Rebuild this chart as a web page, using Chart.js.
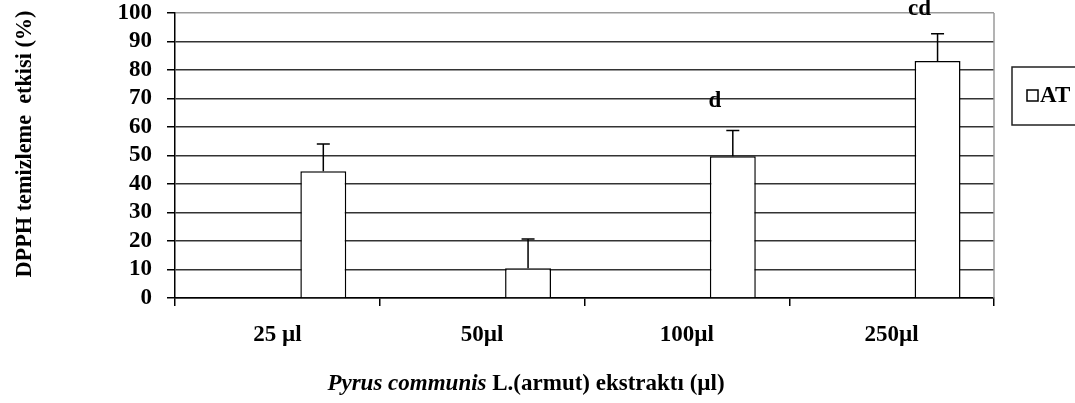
<!DOCTYPE html>
<html>
<head>
<meta charset="utf-8">
<script src="https://cdn.jsdelivr.net/npm/chart.js@4.4.1/dist/chart.umd.min.js"></script>
<style>
html,body{margin:0;padding:0;background:#fff;}
#c{display:block;}
</style>
</head>
<body>
<canvas id="c" width="1075" height="403"></canvas>
<script>
// ---- data ----
const categories = ['25 µl', '50µl', '100µl', '250µl'];
const atValues = [44.5, 10.4, 49.7, 83.2];
const atErrors = [9.5, 10.3, 9.1, 9.5];
const sigLabels = ['', '', 'd', 'cd'];
const seriesName = 'AT';
const yTitle = 'DPPH temizleme  etkisi (%)';
const xTitleItalic = 'Pyrus communis';
const xTitleRest = ' L.(armut) ekstraktı (µl)';
const yMin = 0, yMax = 100, yStep = 10;

const FAM = '"Liberation Serif", "Times New Roman", serif';
const FS = 23;

const extras = {
  id: 'extras',
  afterDraw(chart) {
    const ctx = chart.ctx;
    const ca = chart.chartArea;
    const ys = chart.scales.y;
    ctx.save();
    // right border
    ctx.strokeStyle = '#9a9a9a';
    ctx.lineWidth = 1.5;
    ctx.beginPath();
    ctx.moveTo(ca.right, ca.top);
    ctx.lineTo(ca.right, ca.bottom);
    ctx.stroke();

    // error bars + significance letters
    const meta = chart.getDatasetMeta(2);
    ctx.strokeStyle = '#000';
    ctx.fillStyle = '#000';
    ctx.lineWidth = 1.5;
    meta.data.forEach((el, i) => {
      const top = ys.getPixelForValue(atValues[i] + atErrors[i]);
      ctx.beginPath();
      ctx.moveTo(el.x, el.y);
      ctx.lineTo(el.x, top);
      ctx.moveTo(el.x - 6.5, top);
      ctx.lineTo(el.x + 6.5, top);
      ctx.stroke();
      if (sigLabels[i]) {
        ctx.font = 'bold ' + FS + 'px ' + FAM;
        ctx.textAlign = 'center';
        ctx.textBaseline = 'middle';
        ctx.fillText(sigLabels[i], el.x - 18, Math.max(top - 29, 9));
      }
    });

    // y title
    ctx.save();
    ctx.translate(31, 144);
    ctx.rotate(-Math.PI / 2);
    ctx.font = 'bold ' + FS + 'px ' + FAM;
    ctx.textAlign = 'center';
    ctx.textBaseline = 'alphabetic';
    ctx.fillText(yTitle, 0, 0, 267);
    ctx.restore();

    // x title
    ctx.textAlign = 'left';
    ctx.textBaseline = 'alphabetic';
    const fI = 'italic bold ' + FS + 'px ' + FAM;
    const fB = 'bold ' + FS + 'px ' + FAM;
    ctx.font = fI; const w1 = ctx.measureText(xTitleItalic).width;
    ctx.font = fB; const w2 = ctx.measureText(xTitleRest).width;
    const x0 = 526 - (w1 + w2) / 2;
    ctx.font = fI; ctx.fillText(xTitleItalic, x0, 390);
    ctx.font = fB; ctx.fillText(xTitleRest, x0 + w1, 390);

    // legend
    ctx.strokeStyle = '#222';
    ctx.lineWidth = 1.5;
    ctx.strokeRect(1012, 67, 80, 58);
    ctx.strokeStyle = '#000';
    ctx.fillStyle = '#fff';
    ctx.fillRect(1027, 90, 11, 11);
    ctx.strokeRect(1027, 90, 11, 11);
    ctx.fillStyle = '#000';
    ctx.font = fB;
    ctx.fillText(seriesName, 1040, 102);
    ctx.restore();
  }
};

const nulls = categories.map(() => null);

new Chart(document.getElementById('c'), {
  type: 'bar',
  data: {
    labels: categories,
    datasets: [
      { label: '', data: nulls },
      { label: '', data: nulls },
      { label: seriesName, data: atValues, backgroundColor: '#fff', borderColor: '#000', borderWidth: 1.5 }
    ]
  },
  options: {
    responsive: false,
    animation: false,
    devicePixelRatio: 1,
    layout: { padding: { top: 0, right: 81, left: 0, bottom: 0 } },
    datasets: { bar: { categoryPercentage: 0.673, barPercentage: 1 } },
    plugins: { legend: { display: false }, tooltip: { enabled: false } },
    scales: {
      x: {
        offset: true,
        grid: { offset: true, drawOnChartArea: false, color: '#000', lineWidth: 1.5, tickLength: 8 },
        border: { color: '#000', width: 1.5 },
        ticks: { font: { family: FAM, size: FS, weight: 'bold' }, color: '#000', padding: 15, maxRotation: 0, autoSkip: false },
        afterFit(s) { s.height = 105; s.paddingLeft = 0; s.paddingRight = 0; }
      },
      y: {
        min: yMin, max: yMax,
        ticks: { stepSize: yStep, font: { family: FAM, size: FS, weight: 'bold' }, color: '#000', padding: 15, autoSkip: false },
        grid: {
          color: c => (c.tick && c.tick.value === yMax ? '#9a9a9a' : '#333'),
          lineWidth: 1.5, tickLength: 8, tickColor: '#000'
        },
        border: { color: '#000', width: 1.5 },
        afterFit(s) { s.width = 175; s.paddingTop = 13; s.paddingBottom = 0; }
      }
    }
  },
  plugins: [extras]
});
</script>
</body>
</html>
